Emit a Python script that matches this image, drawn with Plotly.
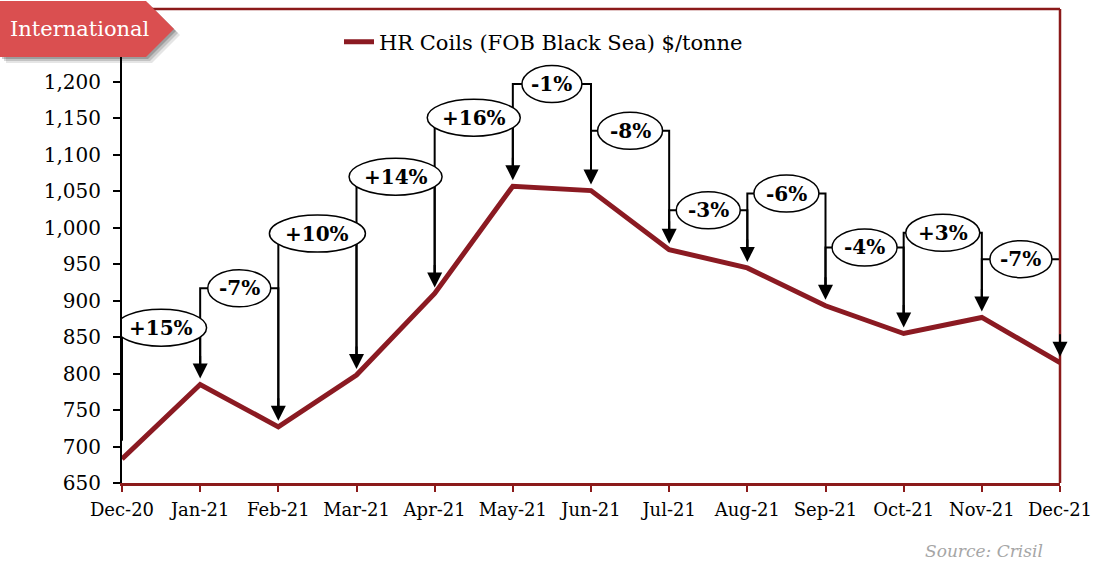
import plotly.graph_objects as go

# ---------------- data ----------------
months = ["Dec-20", "Jan-21", "Feb-21", "Mar-21", "Apr-21", "May-21", "Jun-21",
          "Jul-21", "Aug-21", "Sep-21", "Oct-21", "Nov-21", "Dec-21"]
hr_coils = [683, 785, 727, 798, 910, 1057, 1051, 970, 945, 893, 855, 877, 815]
change_labels = ["+15%", "-7%", "+10%", "+14%", "+16%", "-1%", "-8%",
                 "-3%", "-6%", "-4%", "+3%", "-7%"]
y_ticks = [650, 700, 750, 800, 850, 900, 950, 1000, 1050, 1100, 1150, 1200]
series_name = "HR Coils (FOB Black Sea) $/tonne"

# ---------------- layout constants ----------------
bracket_levels = [863, 917, 992, 1070, 1151, 1197, 1133, 1024, 1047, 973, 993, 957]
ellipse_widths = [91, 63, 96, 93, 93, 60, 65, 64, 65, 65, 74, 62]
ELL_H = 37

W, H = 1093, 562
L, R, T, B = 122, 1060, 9, 483
LINE_RED = "#8B1A22"
AXIS_RED = "#8B1A1A"
TAG_RED = "#DA4F50"
FONT = "DejaVu Serif"


def pxx(p):
    """pixel x -> paper"""
    return (p - L) / (R - L)


def pxy(p):
    """pixel y -> paper"""
    return (B - p) / (B - T)


x_idx = list(range(len(months)))

fig = go.Figure()
fig.add_trace(go.Scatter(
    x=x_idx, y=hr_coils, mode="lines", name=series_name,
    line=dict(color=LINE_RED, width=5), hoverinfo="skip"))

shapes = []
annotations = []

# bracket lines
for i in range(1, len(months)):
    h = bracket_levels[i - 1]
    y_prev = hr_coils[i - 1] + 25
    y_cur = hr_coils[i] + 25
    path = f"M {i-1},{y_prev} L {i-1},{h} L {i},{h} L {i},{y_cur}"
    shapes.append(dict(type="path", path=path, xref="x", yref="y",
                       line=dict(color="black", width=2), layer="above"))

# ellipses + labels + arrowheads
for i in range(1, len(months)):
    h = bracket_levels[i - 1]
    w = ellipse_widths[i - 1]
    shapes.append(dict(type="circle", xref="x", yref="y",
                       xsizemode="pixel", ysizemode="pixel",
                       xanchor=i - 0.5, yanchor=h,
                       x0=-w / 2, x1=w / 2, y0=-ELL_H / 2, y1=ELL_H / 2,
                       fillcolor="white", line=dict(color="black", width=1.5),
                       layer="above"))
    annotations.append(dict(x=i - 0.5, y=h, xref="x", yref="y",
                            text=change_labels[i - 1], showarrow=False,
                            font=dict(family=FONT, size=20, color="black", weight="bold"),
                            xanchor="center", yanchor="middle"))
    annotations.append(dict(x=i, y=hr_coils[i], xref="x", yref="y",
                            ax=0, ay=-30, text="", showarrow=True,
                            arrowhead=2, arrowsize=1.5, arrowwidth=2,
                            arrowcolor="black", standoff=6))

# top and right border of plot area
shapes.append(dict(type="line", xref="paper", yref="paper", x0=1, x1=1, y0=0, y1=1,
                   line=dict(color=AXIS_RED, width=2.5), layer="above"))
shapes.append(dict(type="line", xref="paper", yref="paper", x0=0, x1=1, y0=1, y1=1,
                   line=dict(color=AXIS_RED, width=2.5), layer="above"))


# International tag with shadow
def tag_path(dx, dy):
    pts = [(0, 1), (146, 1), (174, 29), (146, 57), (0, 57)]
    return "M " + " L ".join(f"{pxx(px + dx)},{pxy(py + dy)}" for px, py in pts) + " Z"


for k, op in [(6, 0.10), (4, 0.15), (2, 0.2)]:
    shapes.append(dict(type="path", path=tag_path(k, k), xref="paper", yref="paper",
                       fillcolor=f"rgba(0,0,0,{op})", line=dict(width=0), layer="above"))
shapes.append(dict(type="path", path=tag_path(0, 0), xref="paper", yref="paper",
                   fillcolor=TAG_RED, line=dict(width=0), layer="above"))
annotations.append(dict(x=pxx(80), y=pxy(29), xref="paper", yref="paper",
                        text="International", showarrow=False,
                        font=dict(family=FONT, size=21, color="white"),
                        xanchor="center", yanchor="middle"))

# source
annotations.append(dict(x=pxx(1045), y=pxy(551), xref="paper", yref="paper",
                        text="Source: Crisil", showarrow=False,
                        font=dict(family=FONT, size=17, color="#A6A6A6", style="italic"),
                        xanchor="right", yanchor="middle"))

fig.update_layout(
    width=W, height=H,
    margin=dict(l=L, r=W - R, t=T, b=H - B, autoexpand=False),
    paper_bgcolor="white", plot_bgcolor="white",
    font=dict(family=FONT, size=19, color="black"),
    showlegend=True,
    legend=dict(orientation="h", x=pxx(339), y=pxy(42), xanchor="left", yanchor="middle",
                bgcolor="rgba(0,0,0,0)", font=dict(family=FONT, size=21)),
    shapes=shapes, annotations=annotations,
    xaxis=dict(range=[0, 12], tickvals=x_idx, ticktext=months, showgrid=False,
               zeroline=False, showline=True, linecolor=AXIS_RED, linewidth=2.5,
               mirror=False, ticks="outside", tickcolor=AXIS_RED, ticklen=6, tickwidth=2,
               ticklabelstandoff=3, ticklabeloverflow="allow",
               tickfont=dict(family=FONT, size=18)),
    yaxis=dict(range=[650, 1300], tickvals=y_ticks, tickformat=",d", showgrid=False,
               zeroline=False, showline=True, linecolor="black", linewidth=2,
               ticks="outside", tickcolor="black", ticklen=7, tickwidth=1.5,
               ticklabelstandoff=8, tickfont=dict(family=FONT, size=20)),
)

fig.write_html(
    "out.html",
    config={"displayModeBar": False},
    post_script="document.body.style.margin='0';document.body.style.overflow='hidden';",
)
